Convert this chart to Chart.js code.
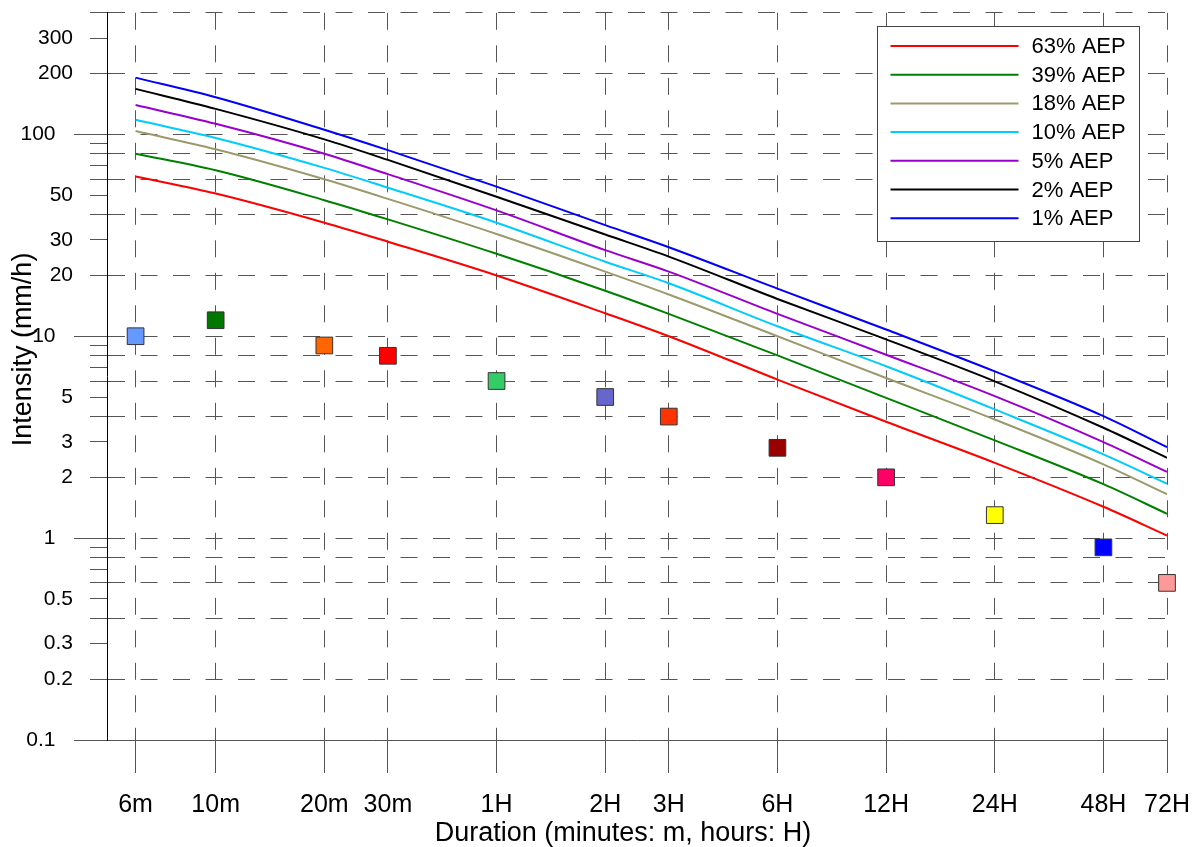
<!DOCTYPE html>
<html>
<head>
<meta charset="utf-8">
<title>IFD curves</title>
<script src="https://cdn.jsdelivr.net/npm/chart.js@4.4.0/dist/chart.umd.min.js"></script>
<style>
  html, body { margin: 0; padding: 0; background: #ffffff; }
  #wrap { width: 1201px; height: 847px; }
</style>
</head>
<body>
<div id="wrap"><canvas id="ifdChart" width="1201" height="847"></canvas></div>
<script>
// durations in minutes and how they are written on the axis
const durations = [6, 10, 20, 30, 60, 120, 180, 360, 720, 1440, 2880, 4320];
const durationLabels = ['6m', '10m', '20m', '30m', '1H', '2H', '3H', '6H', '12H', '24H', '48H', '72H'];

// design rainfall intensity (mm/h) for each AEP
const aep63 = [61.8, 50.9, 36.5, 29.4, 20.0, 13.0, 10.0, 6.1, 3.77, 2.36, 1.43, 1.03];
const aep39 = [80.2, 66.4, 47.2, 37.9, 25.6, 16.8, 12.9, 8.04, 4.95, 3.05, 1.85, 1.32];
const aep18 = [103.8, 84.3, 59.9, 47.9, 32.1, 20.9, 16.1, 10.0, 6.21, 3.87, 2.32, 1.65];
const aep10 = [118, 95.9, 68.2, 54.4, 36.5, 23.4, 18.3, 11.2, 7.1, 4.34, 2.6, 1.86];
const aep5 = [139.6, 112.8, 80.2, 63.5, 42.0, 26.7, 20.9, 12.9, 8.1, 5.05, 2.99, 2.13];
const aep2 = [168, 133.7, 94.4, 74.7, 49.1, 31.9, 24.8, 15.3, 9.65, 5.98, 3.52, 2.5];
const aep1 = [191, 152.8, 105.4, 83.5, 55.1, 35.5, 27.6, 17.2, 10.8, 6.7, 4.02, 2.82];

const aepNames = ['63% AEP', '39% AEP', '18% AEP', '10% AEP', '5% AEP', '2% AEP', '1% AEP'];
const aepSeries = [aep63, aep39, aep18, aep10, aep5, aep2, aep1];
const aepColors = ['#ff0000', '#008000', '#9c9a6c', '#00ccff', '#9900cc', '#000000', '#0000ff'];

// observed maximum intensity per duration
const observed = [10, 12, 9, 8, 6, 5, 4, 2.8, 2, 1.3, 0.9, 0.6];
const observedColors = ['#6699ff', '#007700', '#ff6600', '#ff0000', '#33cc66', '#6666cc',
  '#ff3300', '#990000', '#ff0066', '#ffff00', '#0000ff', '#ff9999'];

// y axis ticks
const yTickValues = [0.1, 0.2, 0.3, 0.4, 0.5, 0.6, 0.7, 0.8, 0.9,
  1, 2, 3, 4, 5, 6, 7, 8, 9,
  10, 20, 30, 40, 50, 60, 70, 80, 90,
  100, 200, 300, 400];
const yLabelled = [0.1, 0.2, 0.3, 0.5, 1, 2, 3, 5, 10, 20, 30, 50, 100, 200, 300];
const yGridLines = [0.2, 0.4, 0.6, 0.8, 1, 2, 4, 6, 8, 10, 20, 40, 60, 80, 100, 200, 400];
const yMajor = [0.1, 1, 10, 100];

const xTitle = 'Duration (minutes: m, hours: H)';
const yTitle = 'Intensity (mm/h)';

const fontFamily = "'Liberation Sans', Arial, Helvetica, sans-serif";
const gridColor = '#555555';
const tickColor = '#555555';
const gridDash = [17, 15.5];

Chart.defaults.font.family = fontFamily;
Chart.defaults.color = '#000000';

const datasets = aepSeries.map((series, i) => ({
  label: aepNames[i],
  data: durations.map((d, j) => ({ x: d, y: series[j] })),
  borderColor: aepColors[i],
  backgroundColor: aepColors[i],
  borderWidth: 2,
  pointRadius: 0,
  fill: false,
  cubicInterpolationMode: 'monotone'
}));

datasets.push({
  label: 'Observed',
  data: durations.map((d, j) => ({ x: d, y: observed[j] })),
  showLine: false,
  pointStyle: 'rect',
  pointRadius: 11.8,
  pointBackgroundColor: observedColors,
  pointBorderColor: '#333333',
  pointBorderWidth: 1,
  clip: false,
  inLegend: false
});

// axis titles placed a little off the axis centre
const axisTitles = {
  id: 'axisTitles',
  afterDraw(chart) {
    const { ctx, chartArea } = chart;
    ctx.save();
    ctx.fillStyle = '#000000';
    ctx.font = '27px ' + fontFamily;
    ctx.textAlign = 'center';
    ctx.textBaseline = 'alphabetic';
    ctx.fillText(xTitle, (chartArea.left + chartArea.right) / 2 - 14, chart.height - 6);
    ctx.translate(31, (chartArea.top + chartArea.bottom) / 2 - 27);
    ctx.rotate(-Math.PI / 2);
    ctx.fillText(yTitle, 0, 0);
    ctx.restore();
  }
};

// boxed legend in the top right corner of the plot
const boxLegend = {
  id: 'boxLegend',
  afterDraw(chart) {
    const { ctx, chartArea } = chart;
    const w = 262, h = 215;
    const x0 = Math.round(chartArea.right - 28 - w) + 0.5;
    const y0 = Math.round(chartArea.top + 13) + 0.5;
    ctx.save();
    ctx.fillStyle = '#ffffff';
    ctx.fillRect(x0, y0, w, h);
    ctx.strokeStyle = '#444444';
    ctx.lineWidth = 1;
    ctx.strokeRect(x0, y0, w, h);
    ctx.font = '22px ' + fontFamily;
    ctx.textAlign = 'left';
    ctx.textBaseline = 'middle';
    chart.data.datasets.forEach((ds, i) => {
      if (ds.inLegend === false) return;
      const y = y0 + 19.5 + i * 28.7;
      ctx.strokeStyle = ds.borderColor;
      ctx.lineWidth = 2;
      ctx.beginPath();
      ctx.moveTo(x0 + 13, y);
      ctx.lineTo(x0 + 141, y);
      ctx.stroke();
      ctx.fillStyle = '#000000';
      ctx.fillText(ds.label, x0 + 154, y + 1);
    });
    ctx.restore();
  }
};

new Chart(document.getElementById('ifdChart'), {
  type: 'line',
  data: { datasets: datasets },
  plugins: [axisTitles, boxLegend],
  options: {
    responsive: false,
    animation: false,
    devicePixelRatio: 1,
    layout: { padding: { top: 11, right: 34, left: 0, bottom: 0 } },
    plugins: {
      legend: { display: false },
      tooltip: { enabled: false }
    },
    scales: {
      x: {
        type: 'logarithmic',
        min: 5,
        max: 4320,
        afterBuildTicks(axis) {
          axis.ticks = durations.map(v => ({ value: v }));
        },
        afterFit(axis) {
          axis.height = 107;
          axis.paddingLeft = 0;
          axis.paddingRight = 0;
        },
        // border.dash applies to the grid lines in v4
        border: { display: true, color: tickColor, width: 1, dash: gridDash },
        grid: {
          color: gridColor,
          lineWidth: 1,
          drawTicks: true,
          tickLength: 33,
          tickColor: tickColor,
          tickWidth: 1,
          tickBorderDash: []
        },
        ticks: {
          autoSkip: false,
          maxRotation: 0,
          minRotation: 0,
          padding: 17,
          font: { size: 25 },
          color: '#000000',
          callback(value) {
            const i = durations.indexOf(value);
            return i >= 0 ? durationLabels[i] : '';
          }
        }
      },
      y: {
        type: 'logarithmic',
        min: 0.1,
        max: 400,
        afterBuildTicks(axis) {
          axis.ticks = yTickValues.map(v => ({ value: v }));
        },
        afterFit(axis) {
          axis.width = 107;
          axis.paddingTop = 0;
          axis.paddingBottom = 0;
        },
        border: { display: true, color: '#000000', width: 1, dash: gridDash },
        grid: {
          color(ctx) {
            return ctx.tick && yGridLines.includes(ctx.tick.value) ? gridColor : 'rgba(0,0,0,0)';
          },
          lineWidth: 1,
          drawTicks: true,
          tickLength: 33,
          tickColor: tickColor,
          tickWidth: 1,
          // minor ticks only show the inner half of the tick length
          tickBorderDash(ctx) {
            return ctx.tick && yMajor.includes(ctx.tick.value) ? [] : [17, 16];
          },
          tickBorderDashOffset(ctx) {
            return ctx.tick && yMajor.includes(ctx.tick.value) ? 0 : 17;
          }
        },
        ticks: {
          autoSkip: false,
          padding: 1,
          font: { size: 21 },
          color: '#000000',
          callback(value) {
            if (!yLabelled.includes(value)) return '';
            // decade labels sit further out, past the long tick
            return yMajor.includes(value) ? String(value) + '   ' : String(value);
          }
        }
      }
    }
  }
});
</script>
</body>
</html>
